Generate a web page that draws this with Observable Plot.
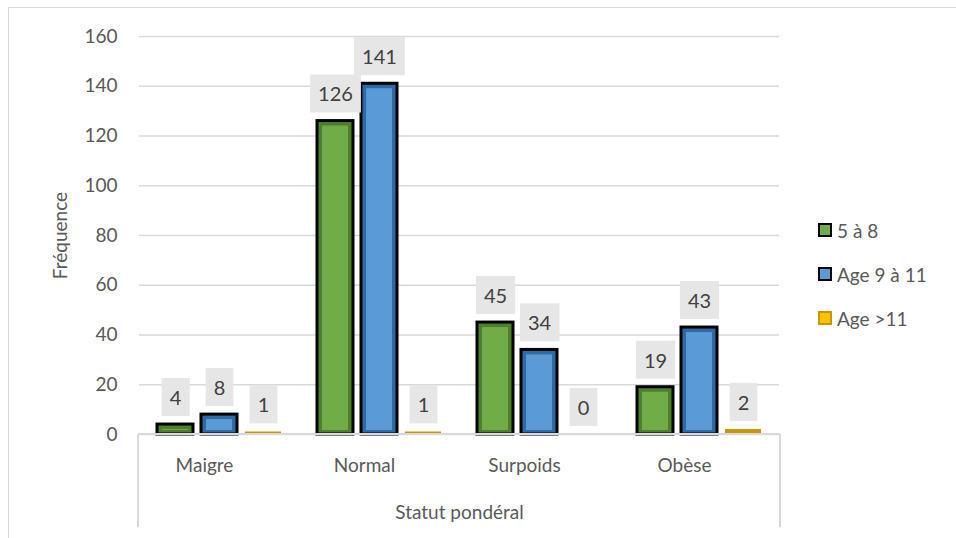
<!DOCTYPE html>
<html>
<head>
<meta charset="utf-8">
<script src="https://cdn.jsdelivr.net/npm/d3@7"></script>
<script src="https://cdn.jsdelivr.net/npm/@observablehq/plot@0.6"></script>
<style>
  html, body { margin: 0; padding: 0; background: #fff; overflow: hidden; }
  #wrap { position: relative; width: 956px; height: 538px; font-family: Lato, "Open Sans", sans-serif; }
  #border { position: absolute; left: 8px; top: 7px; width: 1000px; height: 600px; border: 1.5px solid #d9d9d9; box-sizing: border-box; }
  #legend { position: absolute; left: 818px; top: 216px; color: #595959; font-size: 19px; }
  .item { display: flex; align-items: center; height: 28px; margin-bottom: 16px; }
  .sw { width: 10px; height: 10px; margin-right: 5px; box-sizing: content-box; }
  #chart { position: absolute; left: 0; top: 0; }
</style>
</head>
<body>
<div id="wrap">
  <div id="border"></div>
  <div id="chart"></div>
  <div id="legend"></div>
</div>
<script>
const categories = ["Maigre", "Normal", "Surpoids", "Obèse"];
const seriesNames = ["5 à 8", "Age 9 à 11", "Age >11"];
const values58 = [4, 126, 45, 19];
const values911 = [8, 141, 34, 43];
const valuesOver11 = [1, 1, 0, 2];
const yTicks = [0, 20, 40, 60, 80, 100, 120, 140, 160];

const mainColors = ["#70ad47", "#5b9bd5", "#ffc000"];
const darkColors = ["#4e7f2e", "#2f6aa3", "#c99500"];
const strokeColors = ["#000", "#000", "none"];
const LABEL_INK = "#404041";

const seriesValues = [values58, values911, valuesOver11];
const rows = [];
categories.forEach((c, i) => {
  seriesNames.forEach((s, j) => rows.push({cat: c, series: s, value: seriesValues[j][i]}));
});

const plot = Plot.plot({
  width: 956,
  height: 538,
  marginLeft: 138,
  marginRight: 176,
  marginTop: 36,
  marginBottom: 104,
  style: {fontFamily: "Lato, 'Open Sans', sans-serif", fontSize: "19px", color: "#595959", background: "transparent"},
  fx: {domain: categories, padding: 0},
  x: {domain: seriesNames, paddingInner: 0.18, paddingOuter: 0.39, axis: null},
  y: {domain: [0, 160], ticks: yTicks, tickSize: 0, tickPadding: 22, label: "Fréquence", labelArrow: "none", labelAnchor: "center", labelOffset: 86, line: false},
  color: {domain: seriesNames, range: mainColors},
  marks: [
    Plot.ruleY(yTicks, {stroke: "#d9d9d9", strokeWidth: 1.5}),
    Plot.axisFx({anchor: "bottom", tickSize: 0, tickPadding: 24, dx: -15, label: null}),
    Plot.axisFx({anchor: "bottom", tickSize: 0, tickFormat: () => "", label: "Statut pondéral", labelAnchor: "center", labelArrow: "none", labelOffset: 84}),
    Plot.barY(rows, {fx: "cat", x: "series", y: "value",
      fill: d => darkColors[seriesNames.indexOf(d.series)],
      stroke: d => strokeColors[seriesNames.indexOf(d.series)],
      strokeWidth: 3}),
    Plot.barY(rows, {fx: "cat", x: "series", y: "value", fill: "series",
      insetLeft: 5, insetRight: 5, insetTop: 5, insetBottom: 4,
      filter: d => d.value >= 4}),
    Plot.text(rows, {fx: "cat", x: "series", y: "value", text: d => String(d.value),
      dy: -26, fill: LABEL_INK, fontSize: 20, textAnchor: "middle", lineAnchor: "middle"})
  ]
});
document.getElementById("chart").appendChild(plot);

// grey boxes behind the value labels, sized from each label's own box
plot.querySelectorAll("text").forEach(t => {
  const p = t.parentNode;
  const ink = (p && p.getAttribute && p.getAttribute("fill")) || t.getAttribute("fill");
  if (ink !== LABEL_INK) return;
  const b = t.getBBox();
  const r = document.createElementNS("http://www.w3.org/2000/svg", "rect");
  const cy = b.y + b.height / 2;
  r.setAttribute("x", b.x - 8);
  r.setAttribute("width", b.width + 16);
  r.setAttribute("y", cy - 19);
  r.setAttribute("height", 38);
  r.setAttribute("fill", "#e7e6e6");
  if (t.getAttribute("transform")) r.setAttribute("transform", t.getAttribute("transform"));
  p.insertBefore(r, t);
});

// category axis box (lines at the outer edges of the fx scale)
const fxRange = plot.scale("fx").range;
const ys = plot.scale("y");
const y0 = ys.apply(0);
const yb = ys.apply(-37.5);
const svg = d3.select(plot);
const g = svg.append("g").attr("stroke", "#d9d9d9").attr("stroke-width", 2).attr("fill", "none");
g.append("line").attr("x1", fxRange[0]).attr("x2", fxRange[1]).attr("y1", y0).attr("y2", y0);
g.append("line").attr("x1", fxRange[0]).attr("x2", fxRange[0]).attr("y1", y0).attr("y2", yb);
g.append("line").attr("x1", fxRange[1]).attr("x2", fxRange[1]).attr("y1", y0).attr("y2", yb);

// legend
const legend = document.getElementById("legend");
seriesNames.forEach((s, j) => {
  const item = document.createElement("div");
  item.className = "item";
  const sw = document.createElement("span");
  sw.className = "sw";
  sw.style.background = mainColors[j];
  sw.style.border = j < 2 ? "2px solid #000" : "2px solid " + darkColors[j];
  const lab = document.createElement("span");
  lab.textContent = s;
  item.appendChild(sw);
  item.appendChild(lab);
  legend.appendChild(item);
});
</script>
</body>
</html>
